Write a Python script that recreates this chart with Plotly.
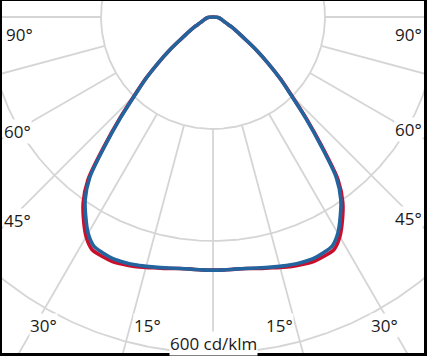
import numpy as np
import plotly.graph_objects as go

# ---- data (cd/klm) ----
gamma_deg = [0, 2.5, 5, 7.5, 10, 12.5, 15, 17.5, 20, 22.5, 25, 27.5, 30, 32.5, 35, 37.5,
             40, 42.5, 45, 47.5, 50, 52.5, 55, 57.5, 60, 62.5, 65, 67.5, 70, 72.5, 75,
             77.5, 80, 82.5, 85, 87.5, 90]
c0_c180 = [452, 452, 452, 453, 456, 459, 463, 467, 470, 472, 471, 468, 453, 430, 404, 367,
           304, 248, 199, 163, 128, 99, 73, 56, 45, 35, 27, 22, 19, 17, 15, 13.5, 12, 10.5,
           9, 7, 0]
c90_c270 = [452, 452, 452, 453, 455, 458, 461, 464, 466, 467, 465, 461, 446, 423, 398, 362,
            300, 245, 197, 162, 128, 99, 73, 56, 45, 35, 27, 22, 19, 17, 15, 13.5, 12, 10.5,
            9, 7, 0]
grid_radii = [200, 400, 600]
spoke_angles = [-90, -75, -60, -45, -30, -15, 0, 15, 30, 45, 60, 75, 90]
angle_labels = ["90°", "60°", "45°", "30°", "15°", "15°", "30°", "45°", "60°", "90°"]
scale_label = "600 cd/klm"

# ---- layout geometry ----
W, H = 427, 356
ML, MR, MT, MB = 2, 3, 1, 3
CX, CY = 213, 17          # pixel position of polar centre
K = 0.56                  # pixels per cd/klm

def px_to_data(px, py):
    return (px - CX) / K, (CY - py) / K

def polar_xy(theta_deg, r):
    t = np.radians(np.asarray(theta_deg, dtype=float))
    r = np.asarray(r, dtype=float)
    return r * np.sin(t), -r * np.cos(t)

fig = go.Figure()
GRID = "#d5d5d5"

# circles
phi = np.linspace(-180, 180, 721)
for rr in grid_radii:
    x, y = polar_xy(phi, np.full_like(phi, rr))
    fig.add_trace(go.Scatter(x=x, y=y, mode="lines", line=dict(color=GRID, width=1.8),
                             hoverinfo="skip", showlegend=False))
# spokes
for a in spoke_angles:
    x, y = polar_xy([a, a], [grid_radii[0], 900])
    fig.add_trace(go.Scatter(x=x, y=y, mode="lines", line=dict(color=GRID, width=1.8),
                             hoverinfo="skip", showlegend=False))

def full_curve(vals):
    th = [-g for g in gamma_deg[::-1]] + gamma_deg[1:]
    vv = vals[::-1] + vals[1:]
    return polar_xy(th, vv)

x, y = full_curve(c0_c180)
fig.add_trace(go.Scatter(x=x, y=y, mode="lines", name="C0-C180",
                         line=dict(color="#c8102e", width=3.6, shape="spline", smoothing=0.8),
                         showlegend=False))
x, y = full_curve(c90_c270)
fig.add_trace(go.Scatter(x=x, y=y, mode="lines", name="C90-C270",
                         line=dict(color="#23639e", width=3.6, shape="spline", smoothing=0.8),
                         showlegend=False))

# labels
label_pos = [(19, 34), (17, 131), (17, 220), (43, 325), (147, 325),
             (279, 325), (384, 325), (408, 218), (408, 129), (408, 34)]
FONT = dict(family="Open Sans", size=17, color="#1a1a1a")
for txt, (px, py) in zip(angle_labels, label_pos):
    ax_, ay_ = px_to_data(px, py)
    fig.add_annotation(x=ax_, y=ay_, text=txt, showarrow=False, font=FONT,
                       bgcolor="white", borderpad=0, xanchor="center", yanchor="middle")
sx, sy = px_to_data(213, 343)
fig.add_annotation(x=sx, y=sy, text=scale_label, showarrow=False, font=FONT,
                   bgcolor="white", borderpad=0, xanchor="center", yanchor="middle")

x0, y1 = px_to_data(ML, MT)
x1, y0 = px_to_data(W - MR, H - MB)
fig.update_layout(
    width=W, height=H,
    margin=dict(l=ML, r=MR, t=MT, b=MB, pad=0),
    paper_bgcolor="black", plot_bgcolor="white",
    xaxis=dict(range=[x0, x1], visible=False, fixedrange=True),
    yaxis=dict(range=[y0, y1], visible=False, fixedrange=True),
    showlegend=False,
)
fig.write_html("out.html")
